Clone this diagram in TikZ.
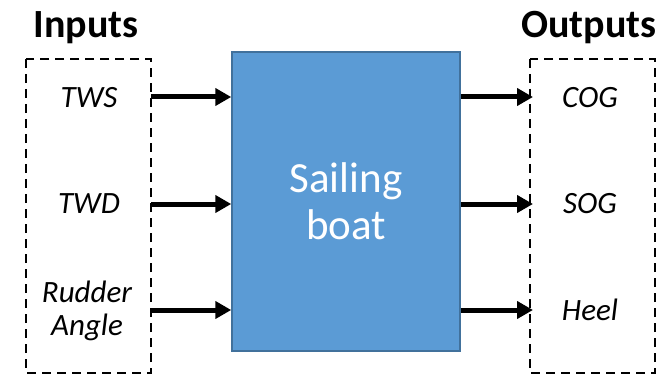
\documentclass[tikz,border=0pt]{standalone}
\usepackage{fontspec}
\setmainfont{Carlito}
\usetikzlibrary{arrows.meta}
\definecolor{boatblue}{HTML}{5B9BD5}
\definecolor{boatedge}{HTML}{41719C}
\tikzset{
  dashbox/.style={draw=black, line width=1.6pt, dash pattern=on 9pt off 6pt},
  boatbox/.style={draw=boatedge, line width=1.5pt, fill=boatblue},
  flow/.style={line width=5pt, -{Triangle[length=16pt,width=17pt]}},
  lbl/.style={font=\fontsize{31}{33}\selectfont\itshape, align=center, inner sep=0pt},
  head/.style={font=\fontsize{40}{44}\selectfont\bfseries, inner sep=0pt}
}
\begin{document}
\begin{tikzpicture}[x=1pt,y=-1pt]
\useasboundingbox (0,0) rectangle (666,374);
% boxes
\draw[dashbox] (26,59) rectangle (151,373);
\draw[dashbox] (530,59) rectangle (655,373);
\node[boatbox, minimum width=228pt, minimum height=299pt, inner sep=0pt,
      font=\fontsize{43}{47}\selectfont, text=white, align=center]
      (boat) at (346,201.5) {Sailing\\boat};
% headings
\node[head] (inputs) at (86,28) {Inputs};
\node[head] (outputs) at (589,28) {Outputs};
% labels
\node[lbl] (tws) at (89,98) {TWS};
\node[lbl] (twd) at (89,204) {TWD};
\node[lbl] (rud) at (87,311) {Rudder\\Angle};
\node[lbl] (cog) at (590,98) {COG};
\node[lbl] (sog) at (590,204) {SOG};
\node[lbl] (heel) at (590,310) {Heel};
% connector anchors
\coordinate (i1) at (151,97);
\coordinate (i2) at (151,204);
\coordinate (i3) at (151,310);
\coordinate (o1) at (533,97);
\coordinate (o2) at (533,204);
\coordinate (o3) at (533,310);
\draw[flow] (i1) -- (boat.west |- i1);
\draw[flow] (i2) -- (boat.west |- i2);
\draw[flow] (i3) -- (boat.west |- i3);
\draw[flow] (boat.east |- o1) -- (o1);
\draw[flow] (boat.east |- o2) -- (o2);
\draw[flow] (boat.east |- o3) -- (o3);
\end{tikzpicture}
\end{document}
